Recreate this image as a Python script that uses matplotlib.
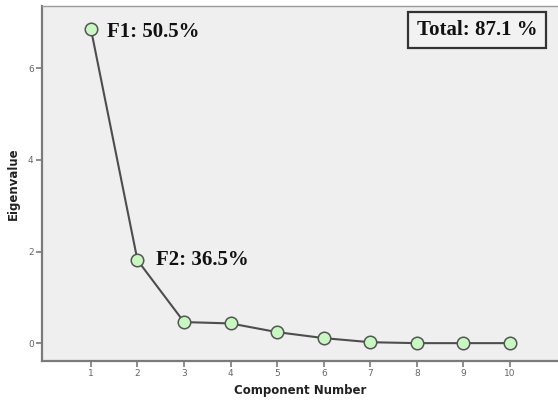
import matplotlib
matplotlib.use("Agg")
import matplotlib.pyplot as plt

# Scree plot data
components = [1, 2, 3, 4, 5, 6, 7, 8, 9, 10]
eigenvalues = [6.86, 1.81, 0.46, 0.43, 0.24, 0.11, 0.02, 0.0, 0.0, 0.0]
y_ticks = [0, 2, 4, 6]
f1_label = "F1: 50.5%"
f2_label = "F2: 36.5%"
total_label = "Total: 87.1 %"

fig = plt.figure(figsize=(5.58, 4.01), dpi=100)
fig.patch.set_facecolor("white")
ax = fig.add_axes([42 / 558, 40 / 401, 516 / 558, 355 / 401])
ax.set_facecolor("#efefef")

ax.plot(components, eigenvalues, color="#4d4d4d", lw=1.5, zorder=2)
ax.plot(components, eigenvalues, ls="none", marker="o", ms=9,
        mfc="#c8f7c2", mec="#555555", mew=1.1, zorder=3)

ax.set_xlim(-0.05, 11.03)
ax.set_ylim(-0.39, 7.36)
ax.set_xticks(components)
ax.set_yticks(y_ticks)

for side in ("left", "bottom"):
    ax.spines[side].set_color("#7a7a7a")
    ax.spines[side].set_linewidth(1.6)
ax.spines["top"].set_linewidth(1.0)
ax.spines["top"].set_color("#999999")
ax.spines["right"].set_visible(False)

ax.tick_params(axis="both", direction="out", length=4, width=1.2,
               color="#7a7a7a", labelcolor="#666666", labelsize=6.5, pad=2)

ax.set_xlabel("Component Number", fontsize=8.5, fontweight="bold",
              color="#222222", labelpad=4)
ax.set_ylabel("Eigenvalue", fontsize=8.5, fontweight="bold",
              color="#222222", labelpad=6)

serif = ["Liberation Serif", "DejaVu Serif"]
ax.text(1.34, eigenvalues[0] - 0.07, f1_label, family=serif, fontweight="bold",
        fontsize=15, color="#111111", va="center", ha="left")
ax.text(2.40, eigenvalues[1], f2_label, family=serif, fontweight="bold",
        fontsize=15, color="#111111", va="center", ha="left")
ax.text(0.843, 0.932, total_label, transform=ax.transAxes, family=serif,
        fontweight="bold", fontsize=15, color="#111111", va="center", ha="center",
        bbox=dict(boxstyle="square,pad=0.4", fc="#f2f2f2", ec="#333333", lw=1.6))

fig.savefig("out.png", dpi=100)
